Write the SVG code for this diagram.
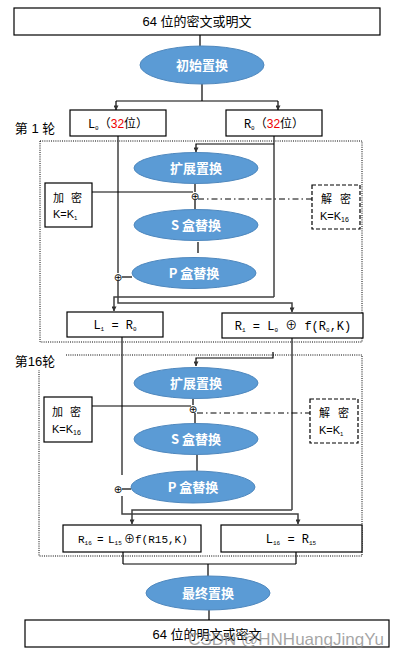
<svg xmlns="http://www.w3.org/2000/svg" width="400" height="658" viewBox="0 0 400 658">
<defs>
<marker id="arr" viewBox="0 0 6 6" refX="5.5" refY="3" markerWidth="5" markerHeight="5" orient="auto" markerUnits="userSpaceOnUse">
<path d="M0,0 L6,3 L0,6 z" fill="#333"/>
</marker>
<style>
.box{fill:#fff;stroke:#000;stroke-width:1.2}
.dbox{fill:#fff;stroke:#000;stroke-width:1.2;stroke-dasharray:4,2}
.dot{fill:none;stroke:#000;stroke-width:1;stroke-dasharray:1,1.2}
.ell{fill:#5B9BD5;stroke:#4F88BE;stroke-width:1}
.et{fill:#fff;font-weight:bold;font-size:13px;font-family:"Noto Sans CJK SC","Noto Sans",sans-serif;text-anchor:middle}
.t{fill:#000;font-size:13px;font-family:"Liberation Sans","Noto Sans CJK SC",sans-serif;text-anchor:middle}
.m{fill:#000;font-size:12px;font-family:"Liberation Mono","Noto Sans CJK SC",monospace;text-anchor:middle}
.ms{fill:#000;font-size:11px;font-family:"Liberation Mono","Noto Sans CJK SC",monospace}
.s{font-size:6px}
.k{fill:#000;font-size:11px;font-family:"Liberation Sans","Noto Sans CJK SC",sans-serif}
.x{fill:#000;font-size:10px;font-family:"DejaVu Sans",sans-serif;text-anchor:middle}
.ln{fill:none;stroke:#404040;stroke-width:1.5}
.bl{fill:none;stroke:#000;stroke-width:1.2}
.dd{fill:none;stroke:#000;stroke-width:1;stroke-dasharray:6,3,1.5,3}
</style>
</defs>

<!-- round frames -->
<g id="round1">
<rect class="dot" x="40" y="141" width="322" height="201"/>
<text class="t" x="35" y="133" font-family="Noto Sans CJK SC">第 1 轮</text>
</g>
<g id="round16">
<path class="dot" d="M66,355 H362 V556 H39 V370"/>
<text class="t" x="35" y="366" font-family="Noto Sans CJK SC">第16轮</text>
</g>

<!-- connectors -->
<g id="connectors">
<line class="bl" x1="200" y1="35" x2="200" y2="46"/>
<line class="bl" x1="202" y1="84" x2="202" y2="101"/>
<line class="bl" x1="116" y1="101" x2="278" y2="101"/>
<line class="bl" x1="116" y1="101" x2="116" y2="110" marker-end="url(#arr)"/>
<line class="bl" x1="278" y1="101" x2="278" y2="110" marker-end="url(#arr)"/>

<!-- round 1 -->
<line class="ln" x1="118" y1="136" x2="118" y2="273"/>
<path class="ln" d="M118,281 V303 H292 V312" marker-end="url(#arr)"/>
<line class="ln" x1="274" y1="136" x2="274" y2="297"/>
<path class="bl" d="M274,144 H196 V152" marker-end="url(#arr)"/>
<path class="ln" d="M274,297 H114 V311" marker-end="url(#arr)"/>
<line class="bl" x1="195" y1="184" x2="195" y2="192"/>
<line class="bl" x1="92" y1="192" x2="193" y2="192"/>
<line class="dd" x1="198" y1="199" x2="312" y2="199"/>
<line class="bl" x1="195" y1="200" x2="195" y2="210"/>
<line class="bl" x1="198" y1="242" x2="198" y2="253"/>
<line class="bl" x1="122" y1="277" x2="132" y2="277"/>

<!-- between -->
<line class="ln" x1="122" y1="337" x2="122" y2="475"/>
<line class="ln" x1="292" y1="338" x2="292" y2="510"/>
<path class="bl" d="M273,352 V358 H196 V366" marker-end="url(#arr)"/>

<!-- round 16 -->
<line class="bl" x1="193" y1="399" x2="193" y2="405"/>
<line class="bl" x1="92" y1="406" x2="191" y2="406"/>
<line class="dd" x1="197" y1="413" x2="310" y2="413"/>
<line class="bl" x1="195" y1="413" x2="195" y2="423"/>
<line class="bl" x1="197" y1="454" x2="197" y2="471"/>
<line class="bl" x1="122" y1="489" x2="131" y2="489"/>
<path class="ln" d="M122,496 V514 H298 V524" marker-end="url(#arr)"/>
<path class="ln" d="M292,510 H132 V524" marker-end="url(#arr)"/>

<!-- final -->
<line class="bl" x1="123" y1="552" x2="123" y2="564"/>
<line class="bl" x1="296" y1="552" x2="296" y2="564"/>
<line class="bl" x1="123" y1="564" x2="296" y2="564"/>
<line class="bl" x1="208" y1="564" x2="208" y2="576"/>
<line class="bl" x1="209" y1="610" x2="209" y2="620"/>

<!-- xor symbols -->
<text class="x" x="118" y="281">⊕</text>
<text class="x" x="195" y="200">⊕</text>
<text class="x" x="118" y="493">⊕</text>
<text class="x" x="193" y="413">⊕</text>
</g>

<!-- nodes -->
<g id="input">
<rect class="box" x="14" y="8" width="366" height="27"/>
<text class="t" x="197" y="26">64 位的密文或明文</text>
</g>
<g id="ip">
<ellipse class="ell" cx="202" cy="65" rx="62" ry="19"/>
<text class="et" x="202" y="70">初始置换</text>
</g>
<g id="L0">
<rect class="box" x="70" y="110" width="96" height="26"/>
<text class="m" x="118" y="128">L<tspan class="s" dy="2">0</tspan><tspan dy="-2" font-family="Noto Sans CJK SC">（</tspan><tspan fill="#e00" font-family="Liberation Sans">32</tspan><tspan font-family="Noto Sans CJK SC">位）</tspan></text>
</g>
<g id="R0">
<rect class="box" x="226" y="110" width="96" height="26"/>
<text class="m" x="274" y="128">R<tspan class="s" dy="2">0</tspan><tspan dy="-2" font-family="Noto Sans CJK SC">（</tspan><tspan fill="#e00" font-family="Liberation Sans">32</tspan><tspan font-family="Noto Sans CJK SC">位）</tspan></text>
</g>

<g id="e1">
<ellipse class="ell" cx="196" cy="168" rx="62" ry="15.5"/>
<text class="et" x="196" y="173">扩展置换</text>
</g>
<g id="s1">
<ellipse class="ell" cx="196" cy="225" rx="62" ry="15.5"/>
<text class="et" x="196" y="230">S 盒替换</text>
</g>
<g id="p1">
<ellipse class="ell" cx="194" cy="273" rx="62" ry="15.5"/>
<text class="et" x="194" y="278">P 盒替换</text>
</g>
<g id="enc1">
<rect class="box" x="45" y="183" width="47" height="44"/>
<text class="k" y="202"><tspan x="53">加</tspan><tspan x="71">密</tspan></text>
<text class="k" x="53" y="218">K=K<tspan class="s" dy="2">1</tspan></text>
</g>
<g id="dec1">
<rect class="dbox" x="312" y="185" width="48" height="44"/>
<text class="k" y="203"><tspan x="321">解</tspan><tspan x="340">密</tspan></text>
<text class="k" x="320" y="220">K=K<tspan font-size="7" dy="2">16</tspan></text>
</g>
<g id="L1">
<rect class="box" x="67" y="312" width="96" height="25"/>
<text class="m" x="115" y="329">L<tspan class="s" dy="2">1</tspan><tspan dy="-2"> = R</tspan><tspan class="s" dy="2">0</tspan></text>
</g>
<g id="R1">
<rect class="box" x="222" y="313" width="141" height="25"/>
<text class="m" x="293" y="330">R<tspan class="s" dy="2">1</tspan><tspan dy="-2"> = L</tspan><tspan class="s" dy="2">0</tspan><tspan dy="-2">  ⊕  f(R</tspan><tspan class="s" dy="2">0</tspan><tspan dy="-2">,K)</tspan></text>
</g>

<g id="e16">
<ellipse class="ell" cx="196" cy="383" rx="62" ry="15.5"/>
<text class="et" x="196" y="388">扩展置换</text>
</g>
<g id="s16">
<ellipse class="ell" cx="196" cy="439" rx="62" ry="15.5"/>
<text class="et" x="196" y="444">S 盒替换</text>
</g>
<g id="p16">
<ellipse class="ell" cx="193" cy="487" rx="62" ry="16"/>
<text class="et" x="193" y="492">P 盒替换</text>
</g>
<g id="enc16">
<rect class="box" x="44" y="397" width="48" height="45"/>
<text class="k" y="416"><tspan x="52">加</tspan><tspan x="70">密</tspan></text>
<text class="k" x="52" y="433">K=K<tspan font-size="7" dy="2">16</tspan></text>
</g>
<g id="dec16">
<rect class="dbox" x="310" y="399" width="48" height="44"/>
<text class="k" y="417"><tspan x="319">解</tspan><tspan x="338">密</tspan></text>
<text class="k" x="319" y="434">K=K<tspan class="s" dy="2">1</tspan></text>
</g>
<g id="R16">
<rect class="box" x="63" y="525" width="138" height="27"/>
<text class="ms" y="543"><tspan x="78">R</tspan><tspan class="s" dy="2">16</tspan><tspan x="97" dy="-2">=</tspan><tspan x="108">L</tspan><tspan class="s" dy="2">15</tspan><tspan x="124" dy="-2">⊕</tspan><tspan x="135">f(R15,K)</tspan></text>
</g>
<g id="L16">
<rect class="box" x="221" y="525" width="141" height="27"/>
<text class="m" x="291" y="543">L<tspan class="s" dy="2">16</tspan><tspan dy="-2"> = R</tspan><tspan class="s" dy="2">15</tspan></text>
</g>

<g id="fp">
<ellipse class="ell" cx="208" cy="593" rx="62" ry="17"/>
<text class="et" x="208" y="598">最终置换</text>
</g>
<g id="output">
<rect class="box" x="25" y="620" width="364" height="27"/>
<text class="t" x="207" y="639">64 位的明文或密文</text>
</g>
<text x="384" y="645" style="text-anchor:end;font-family:'Liberation Sans',sans-serif;font-size:17px;fill:#888;fill-opacity:0.75">CSDN @HNHuangJingYu</text>
</svg>
